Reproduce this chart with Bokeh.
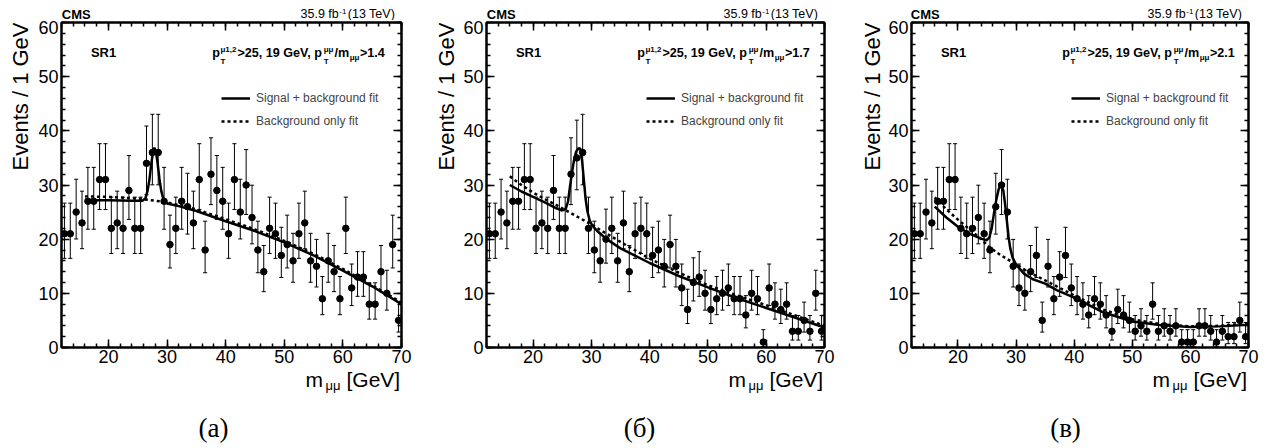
import math
import numpy as np
from bokeh.plotting import figure
from bokeh.models import (Range1d, FixedTicker, LinearAxis, Label, Legend, LegendItem,
                          ColumnDataSource, CustomJSTickFormatter)
from bokeh.layouts import row, column
from bokeh.embed import file_html
from bokeh.resources import INLINE

# ---------------- data ----------------
bin_lo_edges = list(range(12, 70))  # 1 GeV bins from 12 to 70

counts_a = [21, 21, 25, 23, 27, 27, 31, 31, 22, 23, 22, 29, 22, 22, 34, 36, 36, 27, 19, 22,
            27, 26, 23, 31, 18, 32, 29, 27, 21, 31, 25, 30, 24, 18, 14, 22, 21, 17, 19, 16,
            21, 23, 16, 15, 9, 16, 14, 9, 22, 11, 13, 13, 8, 8, 14, 10, 19, 5]
counts_b = [21, 21, 25, 23, 27, 27, 31, 31, 22, 23, 22, 29, 22, 22, 32, 35, 36, 22, 18, 16,
            20, 22, 16, 23, 14, 21, 22, 21, 17, 18, 15, 19, 15, 11, 7, 12, 13, 10, 7, 9,
            10, 11, 9, 9, 6, 10, 9, 1, 11, 8, 7, 8, 3, 3, 5, 3, 10, 3]
counts_c = [21, 21, 25, 23, 27, 27, 31, 31, 22, 21, 22, 24, 21, 18, 26, 30, 25, 15, 11, 10,
            14, 17, 5, 15, 9, 13, 17, 11, 9, 8, 6, 9, 8, 6, 3, 7, 6, 5, 3, 4,
            3, 8, 3, 4, 3, 4, 1, 1, 1, 4, 4, 3, 1, 3, 2, 2, 5, 2]

# signal + background fit (solid)
sb_x_a = [16, 18, 20, 22, 24, 25.8, 26.3, 26.7, 27.0, 27.3, 27.6, 27.85, 28.1, 28.4, 28.7, 29.0,
          29.3, 29.7, 30, 32, 35, 40, 45, 50, 55, 60, 65, 70]
sb_y_a = [27.3, 27.2, 27.2, 27.15, 27.1, 27.1, 27.5, 29.0, 31.0, 33.8, 36.0, 36.9, 36.2, 34.0, 31.2, 29.0,
          27.7, 26.9, 26.6, 26.1, 25.2, 23.3, 21.5, 19.4, 17.0, 14.2, 11.3, 8.0]
sb_x_b = [16, 18, 20, 22, 24, 25, 25.6, 26.0, 26.3, 26.7, 27.0, 27.4, 27.8, 28.1, 28.4, 28.7,
          29.0, 29.3, 29.7, 30.1, 31, 32.6, 35, 40, 45, 50, 55, 60, 65, 70]
sb_y_b = [30.0, 28.8, 27.8, 26.8, 25.7, 25.3, 25.6, 27.0, 29.5, 32.5, 34.5, 36.2, 36.8, 36.7, 34.5, 31.0,
          27.5, 25.2, 23.5, 22.6, 21.5, 20.0, 18.3, 15.6, 13.2, 11.1, 9.1, 7.3, 5.5, 3.7]
sb_x_c = [16, 18, 20, 22, 24, 24.9, 25.4, 25.8, 26.2, 26.6, 27.0, 27.4, 27.8, 28.1, 28.4, 28.7,
          29.0, 29.4, 30.0, 31.4, 32.9, 35, 37, 40, 45, 50, 55, 60, 65, 70]
sb_y_c = [26.0, 24.0, 22.3, 21.0, 20.1, 19.8, 20.3, 22.0, 24.8, 27.3, 29.2, 30.1, 29.0, 26.5, 23.5, 20.5,
          18.3, 16.6, 15.3, 13.6, 12.6, 11.8, 10.6, 9.2, 6.5, 4.8, 4.1, 3.8, 3.9, 4.2]

# background-only fit (dotted)
b_x_a = [16, 20, 25, 28, 30, 35, 40, 45, 50, 55, 60, 65, 70]
b_y_a = [27.9, 27.8, 27.5, 27.1, 26.8, 25.5, 23.7, 21.8, 19.7, 17.3, 14.5, 11.5, 8.3]
b_x_b = [16, 18, 20, 22, 24, 26, 28, 30, 32, 35, 40, 45, 50, 55, 60, 65, 70]
b_y_b = [31.6, 30.0, 28.6, 27.4, 26.3, 25.1, 23.9, 22.7, 21.4, 19.5, 16.4, 13.8, 11.5, 9.6, 7.8, 5.9, 4.0]
b_x_c = [16, 18, 20, 22, 24, 25.1, 27, 28.5, 30, 32, 35, 40, 45, 50, 55, 60, 65, 70]
b_y_c = [27.7, 25.5, 23.6, 21.8, 20.0, 18.8, 17.3, 16.3, 15.4, 14.0, 12.4, 9.6, 7.0, 5.2, 4.3, 3.9, 4.0, 4.4]

cuts = ["1.4", "1.7", "2.1"]
captions = ["(a)", "(\u0431)", "(\u0432)"]
x_ticks = [20, 30, 40, 50, 60, 70]
y_ticks = [0, 10, 20, 30, 40, 50, 60]

# ---------------- helpers ----------------
REG = {' ': 278, '(': 333, ')': 333, '-': 333, '.': 278, '/': 278, '[': 278, ']': 278, '+': 584,
       '>': 584, ',': 278, 'G': 778, 'T': 611, 'V': 667, 'e': 556, 'f': 278, 'b': 556, 'm': 833,
       '\u03bc': 576}
BOLD = {' ': 278, '>': 584, ',': 278, '.': 278, '/': 278, 'G': 778, 'e': 556, 'V': 667, 'p': 611,
        'T': 611, 'm': 889, '\u03bc': 611, 'S': 667, 'R': 722}


def tw(s, size, bold=False):
    t = BOLD if bold else REG
    return sum(t.get(c, 556) for c in s) / 1000.0 * size


def poisson_interval(n):
    lo = 0.0 if n == 0 else n * (1 - 1 / (9 * n) - 1 / (3 * math.sqrt(n))) ** 3
    m = n + 1
    hi = m * (1 - 1 / (9 * m) + 1 / (3 * math.sqrt(m))) ** 3
    return lo, hi


FONT = "Liberation Sans"
MID = 0.35              # em-box middle above the baseline (texts are placed by their middle)
W, H = 426, 448
STRIP_TOP = 20          # height of the text strip above each panel
PAN_TOP = 2             # panel border above frame
FRAME_H = 325
PAN_BOT = 23            # panel border below frame (tick labels)
LEFT_STRIP = 33         # width of the strip holding the y title
MID_H = PAN_TOP + FRAME_H + PAN_BOT
STRIP_BOT = H - STRIP_TOP - MID_H


def strip(w, h):
    s = figure(width=w, height=h, output_backend="svg", toolbar_location=None, title=None,
               x_range=Range1d(0, w), y_range=Range1d(0, h), x_axis_type=None, y_axis_type=None,
               min_border=0, min_border_left=0, min_border_right=0, min_border_top=0,
               min_border_bottom=0)
    s.frame_align = False
    s.outline_line_color = None
    s.background_fill_color = "white"
    s.border_fill_color = "white"
    return s


def slab(s, text, x, y, size, bold=False, align="left", angle=0.0, font=FONT):
    s.add_layout(Label(x=x, y=y, text=text, text_font=font, text_font_size=f"{size}px",
                       text_font_style="bold" if bold else "normal", text_align=align,
                       text_baseline="middle", text_color="black", angle=angle))


def make_panel(counts, sbx, sby, bx, by, cut, caption, left, right):
    fw = W - left - right
    p = figure(width=W - LEFT_STRIP, height=MID_H, output_backend="svg", toolbar_location=None,
               title=None, x_range=Range1d(12, 70), y_range=Range1d(0, 60),
               min_border_left=left - LEFT_STRIP, min_border_right=right, min_border_top=PAN_TOP,
               min_border_bottom=PAN_BOT)
    p.frame_align = False
    p.grid.visible = False
    p.outline_line_color = "black"
    p.outline_line_width = 2
    p.background_fill_color = "white"
    p.border_fill_color = "white"

    xt = FixedTicker(ticks=x_ticks, minor_ticks=list(range(12, 71, 2)))
    yt = FixedTicker(ticks=y_ticks, minor_ticks=list(range(0, 61, 2)))
    p.xaxis.ticker = xt
    p.yaxis.ticker = yt
    for ax in (p.xaxis[0], p.yaxis[0]):
        ax.major_tick_in = 8
        ax.major_tick_out = 0
        ax.minor_tick_in = 4
        ax.minor_tick_out = 0
        ax.major_tick_line_width = 1.5
        ax.minor_tick_line_width = 1.5
        ax.axis_line_width = 2
        ax.major_label_text_font = FONT
        ax.major_label_text_font_size = "18px"
        ax.major_label_text_color = "black"
    p.xaxis.major_label_standoff = 2
    p.yaxis.major_label_standoff = 3
    # mirrored axes (ticks only)
    for loc, tk in (("right", yt), ("above", xt)):
        ax = LinearAxis(ticker=tk, formatter=CustomJSTickFormatter(code="return ''"),
                        major_label_text_font_size="0px", axis_label_standoff=0,
                        major_tick_in=8, major_tick_out=0,
                        minor_tick_in=4, minor_tick_out=0, major_tick_line_width=1.5,
                        minor_tick_line_width=1.5, axis_line_width=2, major_label_standoff=0)
        p.add_layout(ax, loc)

    x = np.array([e + 0.5 for e in bin_lo_edges])
    y = np.array(counts, dtype=float)
    lo = np.array([poisson_interval(n)[0] for n in counts])
    hi = np.array([poisson_interval(n)[1] for n in counts])
    src = ColumnDataSource(dict(x=x, y=y, lo=lo, hi=hi, xl=x - 0.5, xr=x + 0.5,
                                cl=x - 0.35, cr=x + 0.35))
    p.segment("x", "lo", "x", "hi", source=src, line_color="black", line_width=1)
    p.segment("cl", "hi", "cr", "hi", source=src, line_color="black", line_width=1)
    p.segment("cl", "lo", "cr", "lo", source=src, line_color="black", line_width=1)
    p.segment("xl", "y", "xr", "y", source=src, line_color="black", line_width=1.5)
    p.scatter("x", "y", source=src, marker="circle", size=6.5, color="black")

    r_b = p.line(bx, by, line_color="black", line_width=2.5, line_dash="3 3")
    r_sb = p.line(sbx, sby, line_color="black", line_width=2.5)

    leg = Legend(items=[LegendItem(label="Signal + background fit", renderers=[r_sb]),
                        LegendItem(label="Background only fit", renderers=[r_b])],
                 location=(160, 219), border_line_color=None, background_fill_alpha=0,
                 label_text_font=FONT, label_text_font_size="12px", label_height=12,
                 glyph_height=12, glyph_width=29, spacing=9, padding=0, margin=0, label_standoff=6)
    p.add_layout(leg)

    # texts inside the frame: anchor at the frame top-left, offsets in pixels (baseline given)
    def lab(text, xo, base_off, size, bold=False):
        p.add_layout(Label(x=12, y=60, x_offset=xo, y_offset=base_off + MID * size, text=text,
                           text_font=FONT, text_font_size=f"{size}px",
                           text_font_style="bold" if bold else "normal",
                           text_align="left", text_baseline="middle", text_color="black"))

    base = -34.8
    lab("SR1", 29.4, base, 13, bold=True)
    ms, ss = 12.6, 8
    xx = 150.7
    lab("p", xx, base, ms, bold=True)
    xs = xx + tw("p", ms, True) + 0.5
    lab("\u03bc1,2", xs, base + 5.5, ss, bold=True)
    lab("T", xs, base - 6.5, ss, bold=True)
    xx = xs + tw("\u03bc1,2", ss, True) + 1
    lab(">25, 19 GeV, p", xx, base, ms, bold=True)
    xs = xx + tw(">25, 19 GeV, p", ms, True) + 0.5
    lab("\u03bc\u03bc", xs, base + 5.5, ss, bold=True)
    lab("T", xs, base - 6.5, ss, bold=True)
    xx = xs + tw("\u03bc\u03bc", ss, True) + 1
    lab("/m", xx, base, ms, bold=True)
    xs = xx + tw("/m", ms, True) + 0.5
    lab("\u03bc\u03bc", xs, base - 3, ss, bold=True)
    xx = xs + tw("\u03bc\u03bc", ss, True) + 0.5
    lab(">" + cut, xx, base, ms, bold=True)

    # ---- strips holding the texts around the frame (y = distance from strip bottom) ----
    def sy(canvas_baseline, size, h, top0):
        # strip-y of the text middle for a given canvas baseline
        return h - (canvas_baseline - MID * size - top0)

    top = strip(W, STRIP_TOP)
    slab(top, "CMS", left + 0.3, sy(18.3, 13, STRIP_TOP, 0), 13, bold=True)
    rx = left + fw - 3
    w1 = tw(" (13 TeV)", 12.5)
    slab(top, " (13 TeV)", rx, sy(18.3, 12.5, STRIP_TOP, 0), 12.5, align="right")
    slab(top, "-1", rx - w1, sy(13.3, 8, STRIP_TOP, 0), 8, align="right")
    slab(top, "35.9 fb", rx - w1 - tw("-1", 8) - 0.5, sy(18.3, 12.5, STRIP_TOP, 0), 12.5,
         align="right")

    lst = strip(LEFT_STRIP, MID_H)
    slab(lst, "Events / 1 GeV", 27.5 - MID * 22, MID_H - 2, 22, align="right", angle=math.pi / 2)

    bot = strip(W, STRIP_BOT)
    fr = left + fw
    y0 = STRIP_TOP + MID_H  # canvas y of the bottom strip top
    slab(bot, "m", fr - 96, sy(386.5, 21, STRIP_BOT, y0), 21)
    slab(bot, "\u03bc\u03bc", fr - 76, sy(390.0, 13, STRIP_BOT, y0), 13)
    slab(bot, "[GeV]", fr - 55, sy(386.5, 21, STRIP_BOT, y0), 21)
    slab(bot, caption, W / 2, STRIP_BOT - (427 - y0), 27, align="center", font="Liberation Serif")

    return column(top, row(lst, p), bot)


pa = make_panel(counts_a, sb_x_a, sb_y_a, b_x_a, b_y_a, cuts[0], captions[0], 61, 25)
pb = make_panel(counts_b, sb_x_b, sb_y_b, b_x_b, b_y_b, cuts[1], captions[1], 60, 28)
pc = make_panel(counts_c, sb_x_c, sb_y_c, b_x_c, b_y_c, cuts[2], captions[2], 58, 30)

layout = row(pa, pb, pc)
open("out.html", "w").write(file_html(layout, INLINE))
